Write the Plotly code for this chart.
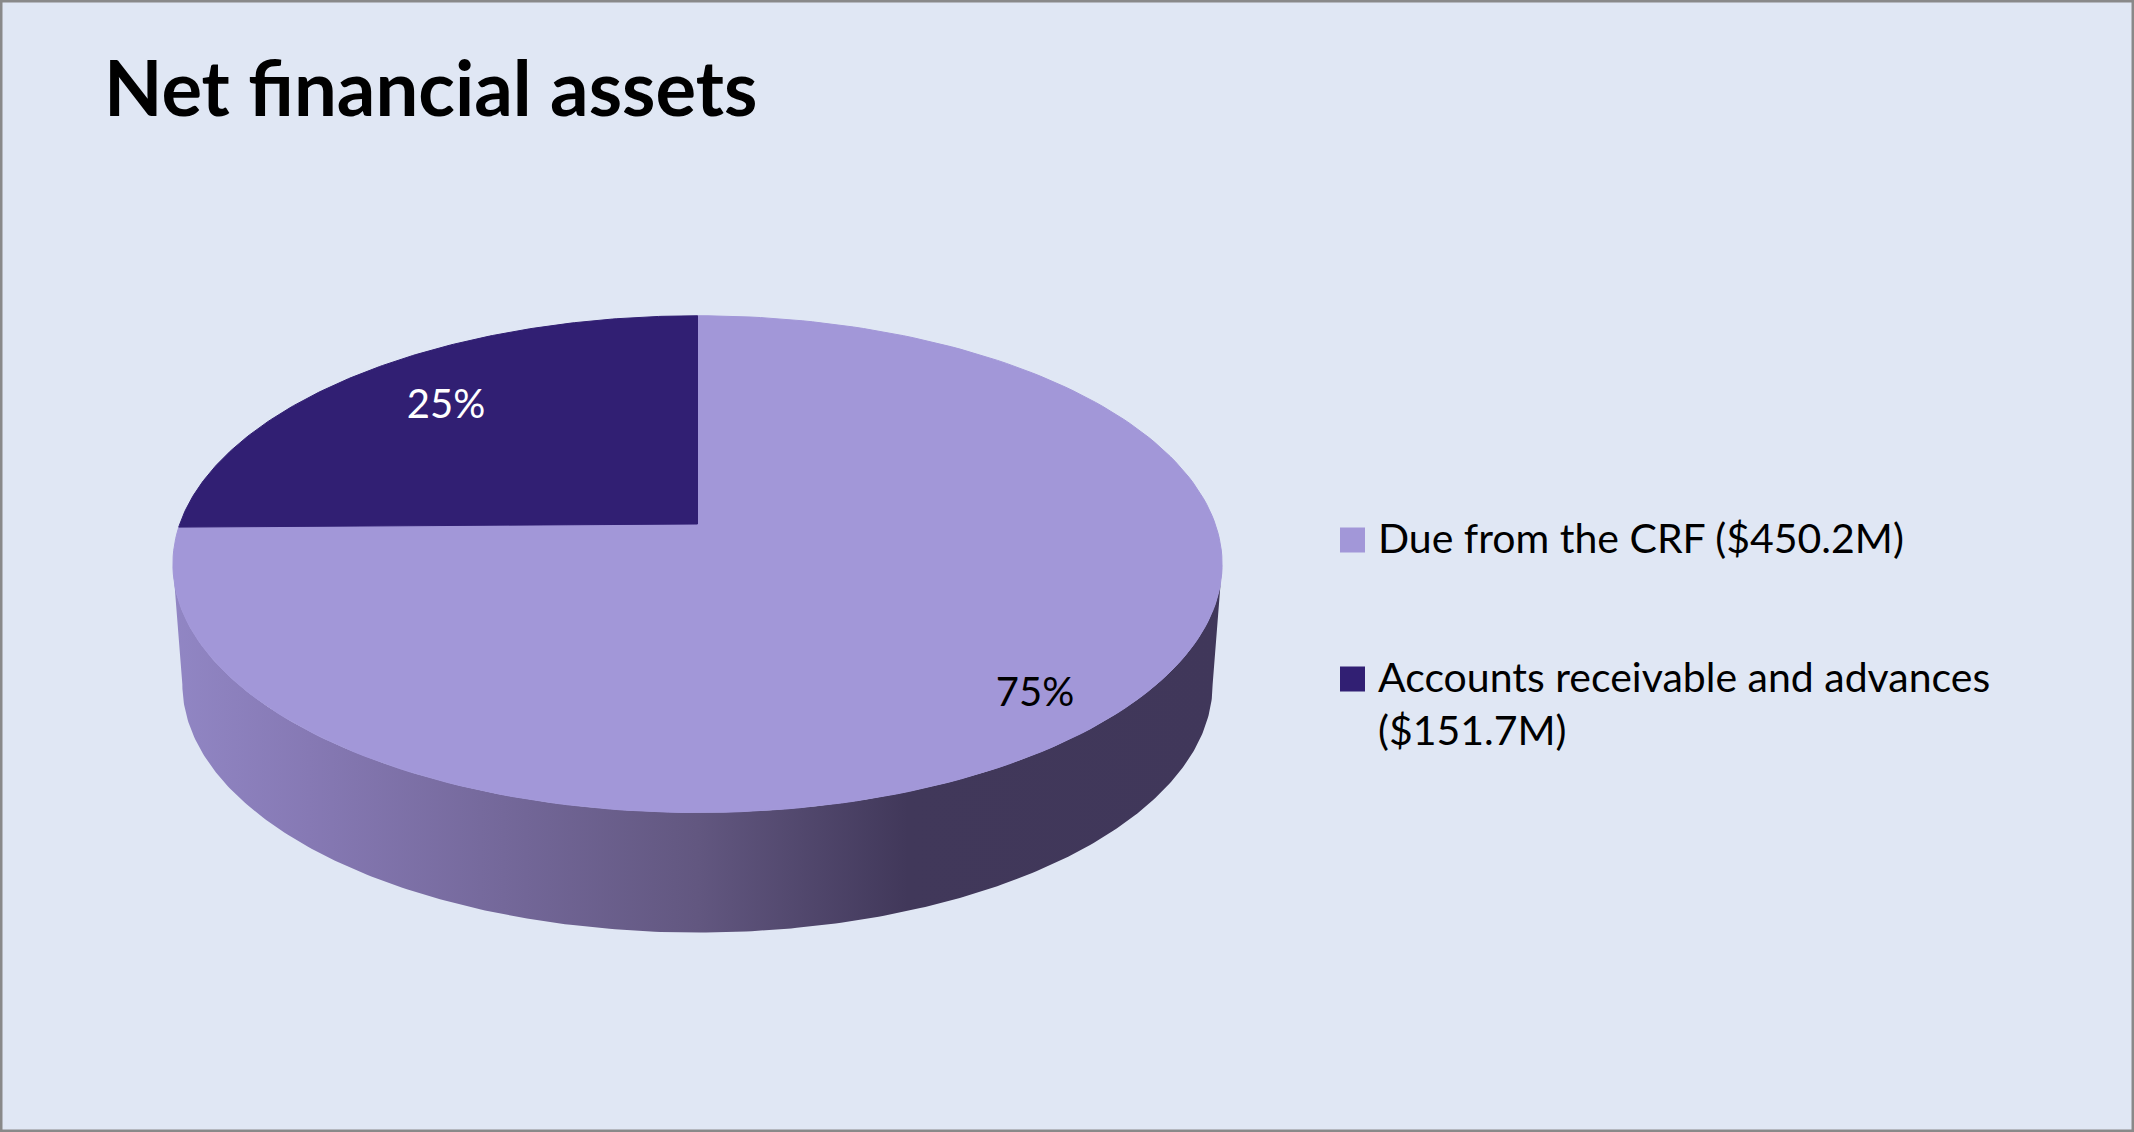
import numpy as np
import plotly.graph_objects as go

# data
categories = ["Due from the CRF", "Accounts receivable and advances"]
values = [450.2, 151.7]  # $ millions
slice_colors = ["#A297D8", "#311F73"]
pct_colors = ["black", "white"]
pct_radius = [0.83, 0.74]  # where the % label sits along the slice mid-line
pct_nudge = [16, 0]        # small extra vertical offset of the % label (px)

W, H = 2134, 1132
BG = "#E0E7F4"
FONT = "Lato"

# tilted 3-D pie drawn in pixel space
CX, CY = 697.5, 524
A, B, K = 517.7, 241.9, 0.1616   # half width, half depth, perspective
DEPTH = 120
BOTTOM_SCALE = 0.982               # base looks a touch narrower (perspective)


def project(theta, r=1.0):
    X = r * np.cos(theta)
    Z = r * np.sin(theta)
    d = 1 + K * Z
    return CX + A * X / d, CY - B * Z / d


fig = go.Figure()

# side wall of the cylinder (front half only)
t = np.linspace(np.pi + np.arcsin(K), 2 * np.pi - np.arcsin(K), 300)
sx, sy = project(t)
bx = CX + (sx - CX) * BOTTOM_SCALE
fig.add_trace(go.Scatter(
    x=np.concatenate([sx, bx[::-1]]),
    y=np.concatenate([sy, sy[::-1] + DEPTH]),
    mode="lines", fill="toself", line=dict(width=0),
    fillgradient=dict(type="horizontal", colorscale=[
        [0, "#9186C4"], [0.13, "#8679B4"], [0.5, "#625780"],
        [0.7, "#41385A"], [1, "#40375A"]]),
    hoverinfo="skip", showlegend=False,
))

# top face: slices start at 12 o'clock and run clockwise
total = sum(values)
fracs = [v / total for v in values]
cum = np.concatenate([[0], np.cumsum(fracs)])
lab_x, lab_y, lab_t = [], [], []
for i, name in enumerate(categories):
    th = np.pi / 2 - 2 * np.pi * np.linspace(cum[i], cum[i + 1], 200)
    px, py = project(th)
    fig.add_trace(go.Scatter(
        x=np.concatenate([[CX], px, [CX]]),
        y=np.concatenate([[CY], py, [CY]]),
        mode="lines", fill="toself", fillcolor=slice_colors[i],
        line=dict(color=slice_colors[i], width=1),
        name=name, hoverinfo="name", showlegend=False,
    ))
    mid = np.pi / 2 - 2 * np.pi * (cum[i] + cum[i + 1]) / 2
    lx, ly = project(mid, pct_radius[i])
    lab_x.append(lx)
    lab_y.append(ly + pct_nudge[i])
    lab_t.append(f"{round(fracs[i] * 100)}%")

fig.add_trace(go.Scatter(
    x=lab_x, y=lab_y, text=lab_t, mode="text",
    textfont=dict(family=FONT, size=40, color=pct_colors),
    hoverinfo="skip", showlegend=False,
))

# legend drawn by hand to match the square swatches
leg_y = [540, 679]
for i, name in enumerate(categories):
    txt = f"{name} (${values[i]:.1f}M)"
    if len(txt) > 30:
        txt = f"{name}<br>(${values[i]:.1f}M)"
    fig.add_shape(type="rect", x0=1340, x1=1365, y0=leg_y[i] - 12.5, y1=leg_y[i] + 12.5,
                  fillcolor=slice_colors[i], line=dict(width=0))
    fig.add_annotation(x=1376, y=leg_y[i] - 29, text=txt, showarrow=False,
                       xanchor="left", yanchor="top", align="left",
                       font=dict(family=FONT, size=41, color="black"))

fig.add_shape(type="rect", xref="paper", yref="paper", x0=0, x1=1, y0=0, y1=1,
              line=dict(color="#898989", width=5))

fig.update_layout(
    width=W, height=H,
    margin=dict(l=0, r=0, t=0, b=0),
    paper_bgcolor=BG, plot_bgcolor=BG,
    title=dict(text="Net financial assets", x=104 / W, xanchor="left",
               y=1 - 89 / H, yanchor="middle",
               font=dict(family=FONT, size=76, weight="bold", color="black")),
    xaxis=dict(range=[0, W], visible=False, fixedrange=True),
    yaxis=dict(range=[H, 0], visible=False, fixedrange=True),
    showlegend=False,
)

fig.write_html("out.html", config={"displayModeBar": False},
               post_script="document.body.style.margin='0';document.body.style.overflow='hidden';")
